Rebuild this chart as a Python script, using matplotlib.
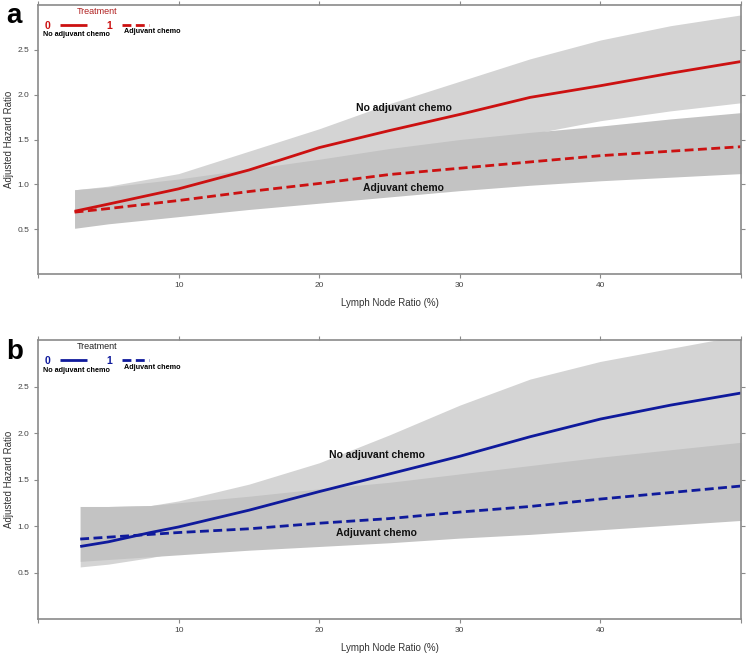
import matplotlib
matplotlib.use("Agg")
import matplotlib.pyplot as plt

plt.rcParams['font.family'] = ['Liberation Sans', 'DejaVu Sans']

# Panel a (red)
lnr_a = [2.6, 5, 10, 15, 20, 25, 30, 35, 40, 45, 50]
no_chemo_a = [0.70, 0.78, 0.95, 1.16, 1.41, 1.60, 1.78, 1.97, 2.10, 2.24, 2.37]
no_chemo_lo_a = [0.52, 0.60, 0.76, 0.93, 1.10, 1.26, 1.40, 1.56, 1.71, 1.82, 1.91]
no_chemo_hi_a = [0.94, 0.98, 1.12, 1.37, 1.62, 1.90, 2.15, 2.40, 2.61, 2.77, 2.89]
chemo_a = [0.69, 0.73, 0.82, 0.92, 1.01, 1.11, 1.18, 1.25, 1.32, 1.37, 1.42]
chemo_lo_a = [0.51, 0.56, 0.64, 0.72, 0.79, 0.86, 0.93, 0.99, 1.04, 1.08, 1.12]
chemo_hi_a = [0.94, 0.97, 1.06, 1.17, 1.28, 1.40, 1.50, 1.58, 1.65, 1.73, 1.80]

# Panel b (blue)
lnr_b = [3.0, 5, 8, 10, 15, 20, 25, 30, 35, 40, 45, 50]
no_chemo_b = [0.78, 0.83, 0.93, 0.99, 1.17, 1.37, 1.56, 1.75, 1.96, 2.15, 2.30, 2.43]
no_chemo_lo_b = [0.56, 0.59, 0.66, 0.72, 0.85, 1.00, 1.13, 1.26, 1.38, 1.48, 1.57, 1.65]
no_chemo_hi_b = [1.21, 1.21, 1.22, 1.27, 1.45, 1.68, 1.98, 2.30, 2.58, 2.77, 2.91, 3.05]
chemo_b = [0.86, 0.88, 0.91, 0.93, 0.97, 1.03, 1.08, 1.15, 1.21, 1.29, 1.36, 1.43]
chemo_lo_b = [0.62, 0.64, 0.67, 0.69, 0.74, 0.78, 0.82, 0.87, 0.91, 0.96, 1.01, 1.06]
chemo_hi_b = [1.21, 1.21, 1.22, 1.25, 1.32, 1.40, 1.47, 1.56, 1.65, 1.74, 1.82, 1.90]

x_ticks = [0, 10, 20, 30, 40, 50]
x_ticklabels = ['', '10', '20', '30', '40', '']
y_ticks = [0.5, 1.0, 1.5, 2.0, 2.5]
y_ticklabels = ['0.5', '1.0', '1.5', '2.0', '2.5']

LIGHT = '#d4d4d4'
DARK = '#c3c3c3'
AXIS = '#8a8a8a'


def draw_panel(ax, x, nc, nc_lo, nc_hi, c, c_lo, c_hi, color, title_color,
               label_pos, letter, letter_y):
    ax.fill_between(x, nc_lo, nc_hi, color=LIGHT, lw=0)
    ax.fill_between(x, c_lo, c_hi, color=DARK, lw=0)
    l0, = ax.plot(x, nc, color=color, lw=2.0, solid_capstyle='butt')
    l1, = ax.plot(x, c, color=color, lw=2.0, dashes=(3.2, 1.6))

    ax.set_xlim(0, 50)
    ax.set_ylim(0, 3)
    ax.set_xticks(x_ticks)
    ax.set_xticklabels(x_ticklabels)
    ax.set_yticks(y_ticks)
    ax.set_yticklabels(y_ticklabels)
    ax.tick_params(direction='out', length=3, width=0.8, color=AXIS,
                   labelsize=6, labelcolor='#444444',
                   top=True, right=True, pad=3)
    for sp in ax.spines.values():
        sp.set_color(AXIS)
        sp.set_linewidth(1.2)
    ax.set_xlabel('Lymph Node Ratio (%)', fontsize=7, color='#333333', labelpad=6)
    ax.set_ylabel('Adjusted Hazard Ratio', fontsize=7, color='#333333', labelpad=3)

    # curve labels
    ax.text(label_pos[0], label_pos[1], 'No adjuvant chemo', fontsize=7.5,
            fontweight='bold', ha='center', va='center', color='#111111')
    ax.text(label_pos[0], label_pos[2], 'Adjuvant chemo', fontsize=7.5,
            fontweight='bold', ha='center', va='center', color='#111111')

    # treatment key
    leg = ax.legend([l0, l1], ['0', '1'], ncol=2, markerfirst=False,
                    loc='upper left', bbox_to_anchor=(-0.004, 1.028),
                    frameon=False, title='Treatment', handlelength=2.6,
                    columnspacing=1.9, handletextpad=0.9,
                    prop={'size': 7.5, 'weight': 'bold'},
                    title_fontproperties={'size': 6.5})
    leg.get_title().set_color(title_color)
    for t in leg.get_texts():
        t.set_color(color)
    ax.text(0.054, 0.89, 'No adjuvant chemo', transform=ax.transAxes,
            fontsize=5.2, fontweight='bold', ha='center', va='center')
    ax.text(0.163, 0.902, 'Adjuvant chemo', transform=ax.transAxes,
            fontsize=5.2, fontweight='bold', ha='center', va='center')

    ax.figure.text(0.019, letter_y, letter, fontsize=20, fontweight='bold',
                   ha='center', va='center')


fig = plt.figure(figsize=(7.5, 6.54), dpi=100)
ax_a = fig.add_axes([0.0507, 0.581, 0.9373, 0.4113])
ax_b = fig.add_axes([0.0507, 0.0535, 0.9373, 0.4266])

draw_panel(ax_a, lnr_a, no_chemo_a, no_chemo_lo_a, no_chemo_hi_a,
           chemo_a, chemo_lo_a, chemo_hi_a, '#cc1111', '#b02020',
           (26.0, 1.85, 0.96), 'a', 0.975)
draw_panel(ax_b, lnr_b, no_chemo_b, no_chemo_lo_b, no_chemo_hi_b,
           chemo_b, chemo_lo_b, chemo_hi_b, '#0f1a9c', '#222222',
           (24.1, 1.76, 0.92), 'b', 0.462)

fig.savefig('out.png', dpi=100)
